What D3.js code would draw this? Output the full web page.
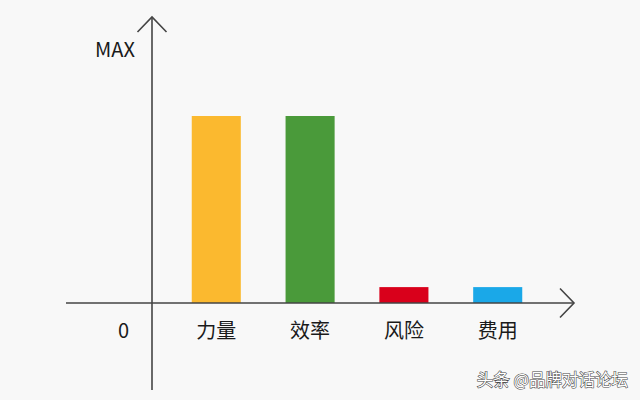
<!DOCTYPE html>
<html><head><meta charset="utf-8">
<script src="https://cdn.jsdelivr.net/npm/d3@7/dist/d3.min.js"></script>
<style>html,body{margin:0;padding:0;background:#f8f8f8;}svg{display:block;}</style>
</head><body>
<svg id="c" width="640" height="400"></svg>
<script>
const categories = ["力量", "效率", "风险", "费用"];
const values = [100, 100, 8.5, 8.5];
const colors = ["#FBB92F", "#4A9A3A", "#D9001B", "#1AA8E8"];
const yTickLabels = ["0", "MAX"];

const svg = d3.select("#c");
svg.append("rect").attr("width", 640).attr("height", 400).attr("fill", "#f8f8f8");

const x = d3.scaleBand().domain(categories).range([147, 567]).padding(0.477);
const y = d3.scaleLinear().domain([0, 100]).range([303, 116]);

const axisColor = "#444";
const font = "'Noto Sans CJK SC','Noto Sans',sans-serif";

// bars
svg.selectAll("rect.bar").data(categories).enter().append("rect")
  .attr("class", "bar")
  .attr("x", d => x(d))
  .attr("width", x.bandwidth())
  .attr("y", (d, i) => y(values[i]))
  .attr("height", (d, i) => y(0) - y(values[i]))
  .attr("fill", (d, i) => colors[i]);

// x axis line with arrow
const y0 = y(0);
svg.append("line").attr("x1", 66).attr("x2", 574).attr("y1", y0).attr("y2", y0)
  .attr("stroke", axisColor).attr("stroke-width", 1.6);
svg.append("path").attr("d", `M560,${y0 - 14.5}L574,${y0}L560,${y0 + 14.5}`)
  .attr("fill", "none").attr("stroke", axisColor).attr("stroke-width", 1.6);

// y axis line with arrow
const ax = 152;
svg.append("line").attr("x1", ax).attr("x2", ax).attr("y1", 17).attr("y2", 390)
  .attr("stroke", axisColor).attr("stroke-width", 1.6);
svg.append("path").attr("d", `M${ax - 14.5},32L${ax},17L${ax + 14.5},32`)
  .attr("fill", "none").attr("stroke", axisColor).attr("stroke-width", 1.6);

// category labels
svg.selectAll("text.cat").data(categories).enter().append("text")
  .attr("class", "cat")
  .attr("x", d => x(d) + x.bandwidth() / 2)
  .attr("y", 338)
  .attr("text-anchor", "middle")
  .attr("font-family", font).attr("font-size", 20).attr("fill", "#1a1a1a")
  .text(d => d);

// y labels
svg.append("text").attr("x", 129).attr("y", 338).attr("text-anchor", "end")
  .attr("font-family", font).attr("font-size", 20).attr("fill", "#1a1a1a").text(yTickLabels[0]);
svg.append("text").attr("x", 135).attr("y", 57).attr("text-anchor", "end")
  .attr("font-family", font).attr("font-size", 20).attr("fill", "#1a1a1a").text(yTickLabels[1]);

// watermark
svg.append("text").attr("x", 628).attr("y", 386).attr("text-anchor", "end")
  .attr("font-family", font).attr("font-size", 16.5)
  .attr("fill", "#fff").attr("stroke", "#444").attr("stroke-width", 1.1)
  .attr("paint-order", "stroke")
  .text("头条 @品牌对话论坛");
</script>
</body></html>
